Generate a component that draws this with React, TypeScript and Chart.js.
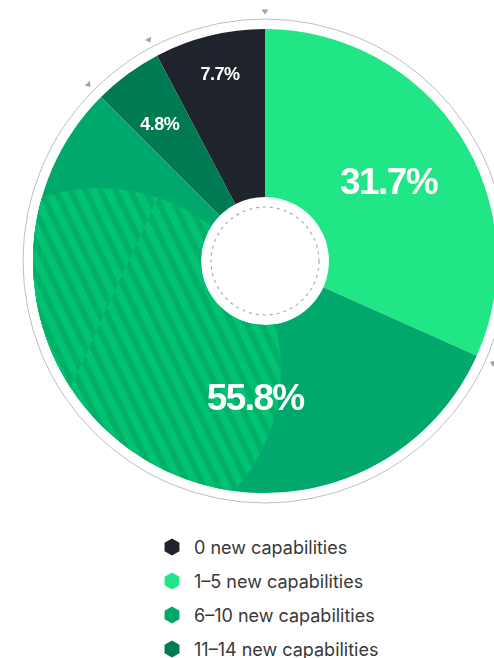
import React, { useEffect, useRef } from "react";
import { Chart, registerables } from "chart.js";

Chart.register(...registerables);

// ---- data ----
const categories = [
  "0 new capabilities",
  "1–5 new capabilities",
  "6–10 new capabilities",
  "11–14 new capabilities",
];
const shares = [7.7, 31.7, 55.8, 4.8];
const shareLabels = ["7.7%", "31.7%", "55.8%", "4.8%"];
const colors = ["#1f232b", "#20e686", "#00a96b", "#007a52"];

// ---- styling / placement config ----
const labelPlacement = [
  { frac: 0.51, rfrac: 0.758, size: 18, spacing: -0.5 },
  { frac: 0.507, rfrac: 0.487, size: 37, spacing: -1.6 },
  { frac: 0.348, rfrac: 0.449, size: 37, spacing: -1.6 },
  { frac: 0.42, rfrac: 0.643, size: 18, spacing: -0.5 },
];
const hatchCfg = {
  index: 2,
  cx: -0.711,
  cy: 0.466,
  r: 0.78,
  base: "#00c272",
  stripe: "#00b068",
  split: [
    [-0.466, -0.263],
    [-0.81, 0.483],
  ],
};

const total = shares.reduce((a, b) => a + b, 0);

const decorPlugin = {
  id: "decor",
  afterDatasetsDraw(chart: any) {
    const ctx = chart.ctx as CanvasRenderingContext2D;
    const meta = chart.getDatasetMeta(0);
    const arcs = meta.data;
    if (!arcs.length) return;
    const p0 = arcs[0].getProps(["x", "y", "outerRadius", "innerRadius"]);
    const x = p0.x, y = p0.y, R = p0.outerRadius;

    // hatched overlay on the big slice
    const a = arcs[hatchCfg.index].getProps([
      "startAngle",
      "endAngle",
      "innerRadius",
      "outerRadius",
    ]);
    ctx.save();
    ctx.beginPath();
    ctx.arc(x, y, a.outerRadius, a.startAngle, a.endAngle);
    ctx.arc(x, y, a.innerRadius, a.endAngle, a.startAngle, true);
    ctx.closePath();
    ctx.clip();
    ctx.beginPath();
    ctx.arc(x + hatchCfg.cx * R, y + hatchCfg.cy * R, hatchCfg.r * R, 0, Math.PI * 2);
    ctx.clip();
    const theta = Math.atan2(2.1, 1);
    const period = 15 * Math.sin(theta);
    const dw = period * 0.45;
    const drawStripes = (phase: number) => {
      ctx.fillStyle = hatchCfg.base;
      ctx.fillRect(x - R - 20, y - R - 20, 2 * R + 40, 2 * R + 40);
      ctx.save();
      ctx.translate(x, y);
      ctx.rotate(theta);
      ctx.fillStyle = hatchCfg.stripe;
      for (let k = -50; k <= 50; k++) {
        ctx.fillRect(-700, k * period + phase * period, 1400, dw);
      }
      ctx.restore();
    };
    drawStripes(0);
    // phase-shifted left part
    const [s1, s2] = hatchCfg.split;
    const P1 = [x + s1[0] * R, y + s1[1] * R];
    const P2 = [x + s2[0] * R, y + s2[1] * R];
    const A = [P1[0] + (P1[0] - P2[0]) * 3, P1[1] + (P1[1] - P2[1]) * 3];
    const B = [P2[0] + (P2[0] - P1[0]) * 3, P2[1] + (P2[1] - P1[1]) * 3];
    ctx.beginPath();
    ctx.moveTo(A[0], A[1]);
    ctx.lineTo(B[0], B[1]);
    ctx.lineTo(B[0] - 800, B[1]);
    ctx.lineTo(A[0] - 800, A[1]);
    ctx.closePath();
    ctx.clip();
    drawStripes(0.5);
    ctx.restore();

    // outer ring
    ctx.save();
    ctx.strokeStyle = "#bdbdbd";
    ctx.lineWidth = 1;
    ctx.beginPath();
    ctx.arc(x, y, R + 10, 0, Math.PI * 2);
    ctx.stroke();

    // boundary triangles
    ctx.fillStyle = "#a3a3a3";
    arcs.forEach((arc: any) => {
      const ang = arc.getProps(["startAngle"]).startAngle;
      const c = Math.cos(ang), s = Math.sin(ang);
      const tipR = R + 14.5, baseR = R + 19.5, hw = 3.5;
      ctx.beginPath();
      ctx.moveTo(x + c * tipR, y + s * tipR);
      ctx.lineTo(x + c * baseR - s * hw, y + s * baseR + c * hw);
      ctx.lineTo(x + c * baseR + s * hw, y + s * baseR - c * hw);
      ctx.closePath();
      ctx.fill();
    });

    // dashed inner circle
    ctx.strokeStyle = "#ababab";
    ctx.lineWidth = 1.2;
    ctx.setLineDash([3, 4]);
    ctx.beginPath();
    ctx.arc(x, y, p0.innerRadius - 10, 0, Math.PI * 2);
    ctx.stroke();
    ctx.setLineDash([]);

    // value labels
    ctx.fillStyle = "#ffffff";
    ctx.textAlign = "center";
    ctx.textBaseline = "middle";
    arcs.forEach((arc: any, i: number) => {
      const p = arc.getProps(["startAngle", "endAngle", "innerRadius", "outerRadius"]);
      const cfg = labelPlacement[i];
      const ang = p.startAngle + cfg.frac * (p.endAngle - p.startAngle);
      const rr = p.innerRadius + cfg.rfrac * (p.outerRadius - p.innerRadius);
      (ctx as any).letterSpacing = cfg.spacing + "px";
      ctx.font = `bold ${cfg.size}px "Liberation Sans", Arial, sans-serif`;
      ctx.fillText(shareLabels[i], x + Math.cos(ang) * rr, y + Math.sin(ang) * rr);
    });
    (ctx as any).letterSpacing = "0px";
    ctx.restore();
  },
};

function Hexagon({ color }: { color: string }) {
  const pts: string[] = [];
  for (let k = 0; k < 6; k++) {
    const ang = -Math.PI / 2 + (k * Math.PI) / 3;
    pts.push(`${9 + 8.6 * Math.cos(ang)},${9 + 8.6 * Math.sin(ang)}`);
  }
  return (
    <svg width={18} height={18} style={{ display: "block" }}>
      <polygon points={pts.join(" ")} fill={color} />
    </svg>
  );
}

export default function App() {
  const ref = useRef<HTMLCanvasElement | null>(null);
  useEffect(() => {
    if (!ref.current) return;
    const chart = new Chart(ref.current, {
      type: "doughnut",
      data: {
        labels: categories,
        datasets: [
          {
            data: shares,
            backgroundColor: colors,
            borderWidth: 0,
            hoverOffset: 0,
          },
        ],
      },
      options: {
        responsive: false,
        animation: false,
        devicePixelRatio: 1,
        cutout: 64,
        rotation: -(shares[0] / total) * 360,
        layout: { padding: 29 },
        plugins: {
          legend: { display: false },
          tooltip: { enabled: false },
        },
        events: [],
      },
      plugins: [decorPlugin],
    });
    return () => chart.destroy();
  }, []);

  return (
    <div
      style={{
        position: "fixed",
        left: 0,
        top: 0,
        width: 494,
        height: 658,
        overflow: "hidden",
        background: "#ffffff",
      }}
    >
      <canvas
        ref={ref}
        width={530}
        height={522}
        style={{ position: "absolute", left: 0, top: 0, width: 530, height: 522 }}
      />
      <div style={{ position: "absolute", left: 163, top: 530 }}>
        {categories.map((c, i) => (
          <div
            key={c}
            style={{ display: "flex", alignItems: "center", height: 34 }}
          >
            <Hexagon color={colors[i]} />
            <span
              style={{
                marginLeft: 13,
                fontFamily: "Inter, 'Noto Sans', sans-serif",
                fontSize: 18,
                color: "#383838",
                whiteSpace: "nowrap",
              }}
            >
              {c}
            </span>
          </div>
        ))}
      </div>
    </div>
  );
}
